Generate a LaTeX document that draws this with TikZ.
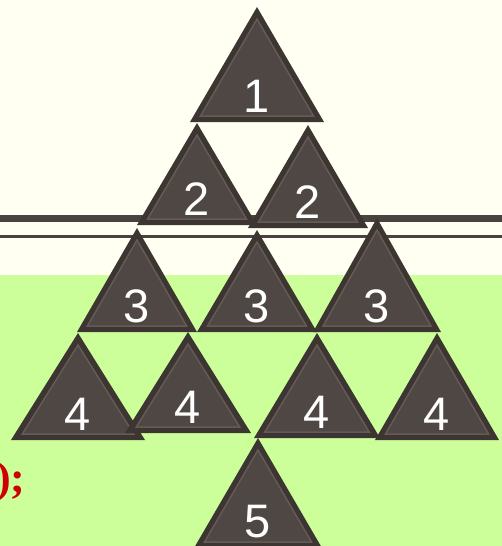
\documentclass[tikz,border=0pt]{standalone}
\usepackage{fontspec}
\usetikzlibrary{calc}
\newfontfamily\tilefont{Liberation Sans}
\newfontfamily\codefont{Liberation Serif}
\definecolor{creamBg}{HTML}{FFFFF2}
\definecolor{greenBg}{HTML}{CCFF99}
\definecolor{tileDark}{HTML}{3D3532}
\definecolor{tileFill}{HTML}{4F4743}
\definecolor{tileLine}{HTML}{645B56}
\definecolor{ruleColor}{HTML}{4A423E}
\definecolor{codeRed}{HTML}{CC0000}
\newcommand{\drawTile}[6]{
    % Argumentos: {ID}{X vertice}{Y vertice}{Media base}{Altura}{Etiqueta}
    \coordinate (#1-a) at (#2, #3);
    \coordinate (#1-l) at ({#2-#4}, {#3+#5});
    \coordinate (#1-r) at ({#2+#4}, {#3+#5});
    \coordinate (#1-c) at ($(#1-a)!0.6667!($(#1-l)!0.5!(#1-r)$)$);
    \pgfmathsetmacro{\inset}{1-18/#5}
    % 1. Triangulo exterior oscuro
    \fill[tile outer] (#1-a) -- (#1-l) -- (#1-r) -- cycle;
    % 2. Triangulo interior con borde claro
    \filldraw[tile inner] ($(#1-c)!\inset!(#1-a)$) -- ($(#1-c)!\inset!(#1-l)$)
        -- ($(#1-c)!\inset!(#1-r)$) -- cycle;
    % 3. Numero, medido desde la base
    \node[tile label] (#1-t) at ($(#1-a)+(0,#5-26)$) {#6};
}

\begin{document}
\begin{tikzpicture}[
    x=0.5pt, y=-0.5pt,
    tile outer/.style={fill=tileDark, line join=miter},
    tile inner/.style={fill=tileFill, draw=tileLine, line width=0.75pt, line join=miter},
    tile label/.style={text=white, inner sep=0pt, font=\tilefont\fontsize{23.5}{23.5}\selectfont},
    thick rule/.style={draw=ruleColor, line width=3.6pt},
    thin rule/.style={draw=ruleColor, line width=1.3pt},
    code text/.style={text=codeRed, inner sep=0pt, font=\codefont\bfseries\fontsize{22}{22}\selectfont}
]
\useasboundingbox (0,0) rectangle (502,546);
\clip (0,0) rectangle (502,546);

% 1. Fondo en dos franjas
\fill[creamBg] (0,0) rectangle (502,275);
\fill[greenBg] (0,275) rectangle (502,546);

% 2. Lineas horizontales
\coordinate (rule1-w) at (0,218.7);   \coordinate (rule1-e) at (502,218.7);
\coordinate (rule2-w) at (0,236.3);   \coordinate (rule2-e) at (502,236.3);
\draw[thick rule] (rule1-w) -- (rule1-e);
\draw[thin rule] (rule2-w) -- (rule2-e);

% 3. Texto rojo recortado
\node[code text, anchor=base east] (code) at (26,492) {);};

% 4. Piramide de triangulos, fila por fila
\drawTile{t1}{257}{7}{67}{115}{1}

\drawTile{t2a}{197}{123}{60}{102}{2}
\drawTile{t2b}{308}{125}{60}{103}{2}

\drawTile{t3a}{137}{228}{60}{104}{3}
\drawTile{t3b}{257}{230}{60}{102}{3}
\drawTile{t3c}{377}{218}{64}{114}{3}

\drawTile{t4a}{78}{333}{67}{107}{4}
\drawTile{t4b}{188}{332}{63}{101}{4}
\drawTile{t4c}{317}{333}{63}{105}{4}
\drawTile{t4d}{437}{333}{62}{107}{4}

\drawTile{t5}{258}{438}{64}{110}{5}

\end{tikzpicture}
\end{document}
